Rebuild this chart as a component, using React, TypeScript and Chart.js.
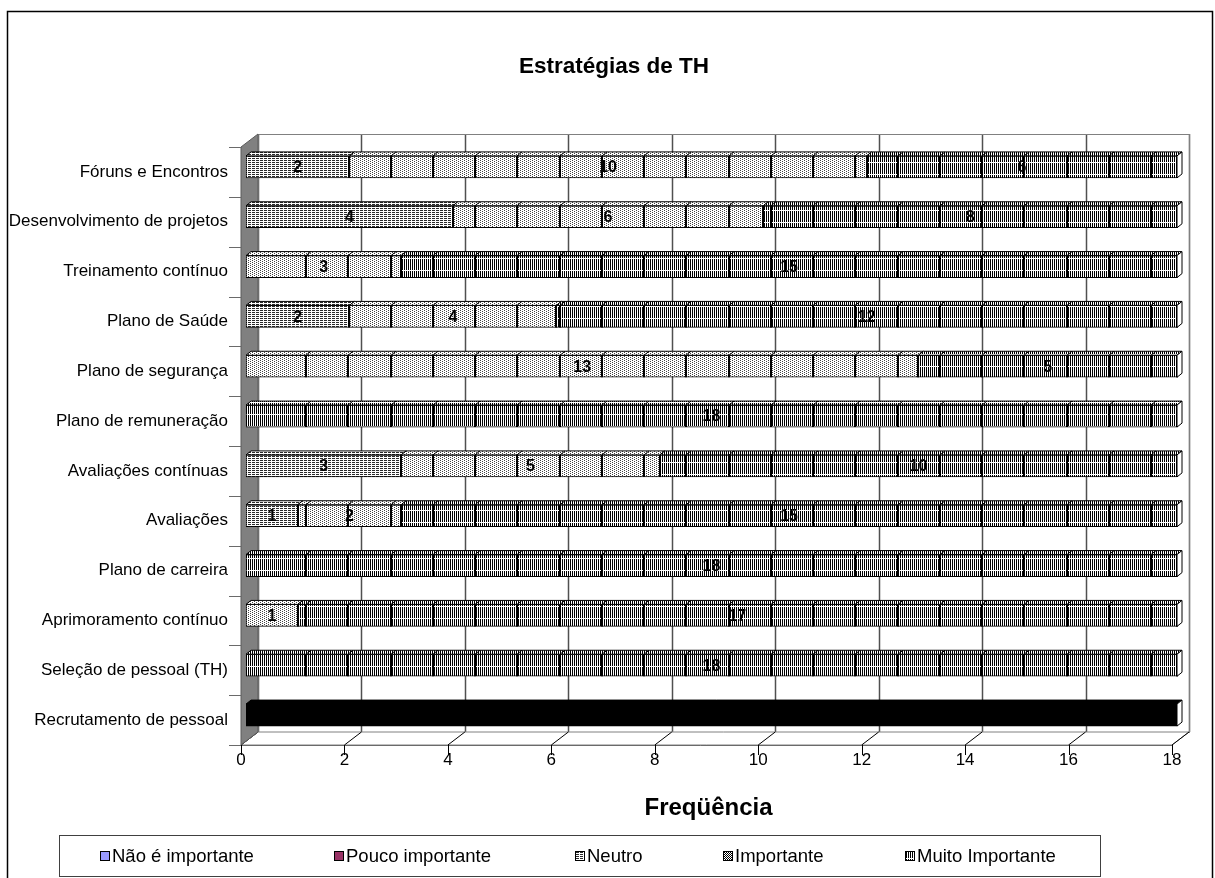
import React, { useEffect, useRef } from "react";
import { Chart, registerables } from "chart.js";

Chart.register(...registerables);

// ---------- data ----------
const chartTitle = "Estratégias de TH";
const xAxisTitle = "Freqüência";
const categories = [
  "Fóruns e Encontros",
  "Desenvolvimento de projetos",
  "Treinamento contínuo",
  "Plano de Saúde",
  "Plano de segurança",
  "Plano de remuneração",
  "Avaliações contínuas",
  "Avaliações",
  "Plano de carreira",
  "Aprimoramento contínuo",
  "Seleção de pessoal (TH)",
  "Recrutamento de pessoal",
];
const seriesNames = ["Não é importante", "Pouco importante", "Neutro", "Importante", "Muito Importante"];
const naoImportante = [0, 0, 0, 0, 0, 0, 0, 0, 0, 0, 0, 0];
const poucoImportante = [0, 0, 0, 0, 0, 0, 0, 0, 0, 0, 0, 0];
const neutro = [2, 4, 0, 2, 0, 0, 3, 1, 0, 0, 0, 0];
const importante = [10, 6, 3, 4, 13, 0, 5, 2, 0, 1, 0, 0];
const muitoImportante = [6, 8, 15, 12, 5, 18, 10, 15, 18, 17, 18, 18];
const solidRow = "Recrutamento de pessoal"; // drawn in solid black, without label
const xMin = 0;
const xMax = 18;
const xStep = 2;

const FONT = 'Arial, "Liberation Sans", sans-serif';

function makePattern(
  ctx: CanvasRenderingContext2D,
  w: number,
  h: number,
  on: (x: number, y: number) => boolean,
  bg = "#ffffff",
  fg = "#000000"
) {
  const c = document.createElement("canvas");
  c.width = w;
  c.height = h;
  const g = c.getContext("2d")!;
  g.fillStyle = bg;
  g.fillRect(0, 0, w, h);
  g.fillStyle = fg;
  for (let y = 0; y < h; y++) for (let x = 0; x < w; x++) if (on(x, y)) g.fillRect(x, y, 1, 1);
  return ctx.createPattern(c, "repeat")!;
}

export default function App() {
  const ref = useRef<HTMLCanvasElement>(null);

  useEffect(() => {
    const canvas = ref.current!;
    const ctx = canvas.getContext("2d")!;

    const pNeutro = makePattern(ctx, 8, 2, (x, y) => y === 0 && x !== 3 && x !== 7, "#ffffff", "#2a2a2a");
    const pImportante = makePattern(ctx, 4, 2, (x, y) => (y === 0 && x === 0) || (y === 1 && x === 2), "#ffffff", "#444444");
    const pMuito = makePattern(ctx, 2, 12, (x, y) => x === 0 && y !== 6);
    const pLegendImp = makePattern(ctx, 2, 2, (x, y) => (x + y) % 2 === 0);

    const solidIdx = categories.indexOf(solidRow);
    const nz = (arr: number[]) => arr.map((v) => (v > 0 ? v : null));

    const fills: any[] = ["#9999ff", "#993366", pNeutro, pImportante, pMuito];
    const legendFills: any[] = ["#9999ff", "#993366", pNeutro, pLegendImp, pMuito];
    const values = [naoImportante, poucoImportante, neutro, importante, muitoImportante];
    const neutroIdx = seriesNames.indexOf("Neutro");

    const datasets = values.map((arr, d) => ({
      label: seriesNames[d],
      data: nz(arr),
      backgroundColor: categories.map((_, i) => (i === solidIdx ? "#000000" : fills[d])),
      borderColor: "#000000",
      borderWidth: 1,
      borderSkipped: false as any,
      barThickness: 22,
    }));

    const SHIFT = 5; // bars sit in front of the front axis plane
    const DX = 17; // wall depth
    const DY = -13;
    const BDX = 5; // bar depth
    const BDY = -4;

    const threeD = {
      id: "threeD",
      beforeDatasetsDraw(chart: any) {
        const { ctx: c, chartArea: a, scales } = chart;
        const xs = scales.x;
        const fx = (v: number) => xs.getPixelForValue(v) - SHIFT;
        const ftop = a.top + SHIFT;
        const fbot = a.bottom + SHIFT;
        const x0 = fx(xMin);
        const x1 = fx(xMax);
        c.save();
        // back wall
        c.fillStyle = "#ffffff";
        c.fillRect(x0 + DX, ftop + DY, x1 - x0, fbot - ftop);
        // gridlines on back wall
        c.strokeStyle = "#505050";
        c.lineWidth = 1.5;
        xs.ticks.forEach((t: any) => {
          const gx = Math.round(fx(t.value) + DX) + 0.5;
          c.beginPath();
          c.moveTo(gx, ftop + DY);
          c.lineTo(gx, fbot + DY);
          c.stroke();
        });
        c.lineWidth = 1;
        c.strokeStyle = "#808080";
        c.strokeRect(Math.round(x0 + DX) + 0.5, Math.round(ftop + DY) + 0.5, x1 - x0, fbot - ftop);
        // floor
        c.beginPath();
        c.moveTo(x0, fbot);
        c.lineTo(x0 + DX, fbot + DY);
        c.lineTo(x1 + DX, fbot + DY);
        c.lineTo(x1, fbot);
        c.closePath();
        c.fillStyle = "#ffffff";
        c.fill();
        c.strokeStyle = "#808080";
        c.stroke();
        c.strokeStyle = "#000000";
        xs.ticks.forEach((t: any) => {
          const gx = fx(t.value);
          c.beginPath();
          c.moveTo(gx, fbot);
          c.lineTo(gx + DX, fbot + DY);
          c.stroke();
        });
        // left wall
        c.beginPath();
        c.moveTo(x0, ftop);
        c.lineTo(x0 + DX, ftop + DY);
        c.lineTo(x0 + DX, fbot + DY);
        c.lineTo(x0, fbot);
        c.closePath();
        c.fillStyle = "#808080";
        c.fill();
        c.strokeStyle = "#5a5a5a";
        c.stroke();
        // x axis line and ticks
        c.strokeStyle = "#6a6a6a";
        c.beginPath();
        c.moveTo(x0 - 12, Math.round(fbot) + 0.5);
        c.lineTo(x1, Math.round(fbot) + 0.5);
        c.stroke();
        c.strokeStyle = "#000000";
        xs.ticks.forEach((t: any) => {
          const gx = Math.round(fx(t.value)) + 0.5;
          c.beginPath();
          c.moveTo(gx, fbot);
          c.lineTo(gx, fbot + 10);
          c.stroke();
        });
        // y axis ticks
        const band = (a.bottom - a.top) / categories.length;
        c.strokeStyle = "#6a6a6a";
        for (let k = 0; k <= categories.length; k++) {
          const ty = Math.round(ftop + k * band) + 0.5;
          c.beginPath();
          c.moveTo(x0 - 12, ty);
          c.lineTo(x0, ty);
          c.stroke();
        }
        c.restore();
      },
      afterDatasetsDraw(chart: any) {
        const { ctx: c, scales } = chart;
        const xs = scales.x;
        const left = xs.getPixelForValue(0);
        c.save();
        c.lineWidth = 1;
        c.strokeStyle = "#000000";
        for (let i = 0; i < categories.length; i++) {
          let last: any = null;
          let top = 0;
          let bottom = 0;
          datasets.forEach((ds, d) => {
            const v = ds.data[i];
            if (v == null) return;
            const el = chart.getDatasetMeta(d).data[i];
            const p = el.getProps(["x", "base", "y", "height"], true);
            top = p.y - p.height / 2;
            bottom = p.y + p.height / 2;
            // top face
            c.beginPath();
            c.moveTo(p.base, top);
            c.lineTo(p.x, top);
            c.lineTo(p.x + BDX, top + BDY);
            c.lineTo(p.base + BDX, top + BDY);
            c.closePath();
            c.fillStyle = ds.backgroundColor[i];
            c.fill();
            c.stroke();
            // segment separator
            c.lineWidth = 2;
            c.beginPath();
            c.moveTo(Math.round(p.x), bottom);
            c.lineTo(Math.round(p.x), top);
            c.stroke();
            c.lineWidth = 1;
            // section lines across patterned segments
            if (d > neutroIdx && i !== solidIdx) {
              for (let k = 1; k < 40; k++) {
                const lx = Math.round(left + 17.75 + 42.25 * k);
                if (lx <= p.base + 3 || lx >= p.x - 3) continue;
                c.lineWidth = 2;
                c.beginPath();
                c.moveTo(lx, bottom);
                c.lineTo(lx, top);
                c.stroke();
                c.lineWidth = 1;
                c.beginPath();
                c.moveTo(lx, top);
                c.lineTo(lx + BDX, top + BDY);
                c.stroke();
              }
            }
            last = p;
          });
          if (!last) continue;
          // end cap
          c.beginPath();
          c.moveTo(last.x, top);
          c.lineTo(last.x + BDX, top + BDY);
          c.lineTo(last.x + BDX, bottom + BDY);
          c.lineTo(last.x, bottom);
          c.closePath();
          c.fillStyle = "#ffffff";
          c.fill();
          c.stroke();
        }
        // value labels
        c.fillStyle = "#000000";
        c.font = `bold 16px ${FONT}`;
        c.textAlign = "center";
        c.textBaseline = "middle";
        datasets.forEach((ds, d) => {
          const meta = chart.getDatasetMeta(d);
          ds.data.forEach((v: any, i: number) => {
            if (v == null || i === solidIdx) return;
            const p = meta.data[i].getProps(["x", "base", "y"], true);
            c.fillText(String(v), (p.x + p.base) / 2, p.y + 1);
          });
        });
        c.restore();
      },
      afterDraw(chart: any) {
        const { ctx: c, chartArea: a } = chart;
        c.save();
        // outer frame
        c.strokeStyle = "#000000";
        c.lineWidth = 1.5;
        c.strokeRect(7.5, 11.5, 1205, 900);
        // title
        c.fillStyle = "#000000";
        c.textAlign = "center";
        c.textBaseline = "middle";
        c.font = `bold 22.5px ${FONT}`;
        c.fillText(chartTitle, 614, 67);
        // x axis title
        c.font = `bold 24px ${FONT}`;
        c.fillText(xAxisTitle, (a.left + a.right) / 2 - 3, 808);
        // legend
        c.lineWidth = 1;
        c.strokeStyle = "#404040";
        c.strokeRect(59.5, 835.5, 1041, 41);
        const itemX = [100, 334, 575, 723, 905];
        c.font = `18.5px ${FONT}`;
        c.textAlign = "left";
        seriesNames.forEach((name, d) => {
          const sx = itemX[d];
          c.fillStyle = legendFills[d];
          c.fillRect(sx, 851, 10, 10);
          c.strokeStyle = "#000000";
          c.strokeRect(sx + 0.5, 851.5, 9, 9);
          c.fillStyle = "#000000";
          c.fillText(name, sx + 12, 857);
        });
        c.restore();
      },
    };

    const chart = new Chart(canvas, {
      type: "bar",
      data: { labels: categories, datasets: datasets as any },
      plugins: [threeD],
      options: {
        responsive: false,
        animation: false,
        devicePixelRatio: 1,
        indexAxis: "y",
        layout: { padding: { left: 0, top: 142, right: 38, bottom: 98 } },
        plugins: {
          legend: { display: false },
          tooltip: { enabled: false },
          title: { display: false },
        },
        scales: {
          x: {
            type: "linear",
            stacked: true,
            min: xMin,
            max: xMax,
            ticks: { stepSize: xStep, labelOffset: -SHIFT, padding: 10, color: "#000000", font: { size: 17, family: FONT } },
            grid: { display: false, drawTicks: false },
            border: { display: false },
            afterFit: (s: any) => {
              s.height = 40;
            },
          },
          y: {
            stacked: true,
            ticks: { padding: 18, labelOffset: SHIFT, autoSkip: false, color: "#000000", font: { size: 17, family: FONT } },
            grid: { display: false, drawTicks: false },
            border: { display: false },
            afterFit: (s: any) => {
              s.width = 246;
            },
          },
        },
      } as any,
    });
    return () => chart.destroy();
  }, []);

  return (
    <div style={{ position: "fixed", left: 0, top: 0, width: 1215, height: 878, background: "#ffffff" }}>
      <canvas ref={ref} width={1215} height={878} style={{ display: "block", width: 1215, height: 878 }} />
    </div>
  );
}
